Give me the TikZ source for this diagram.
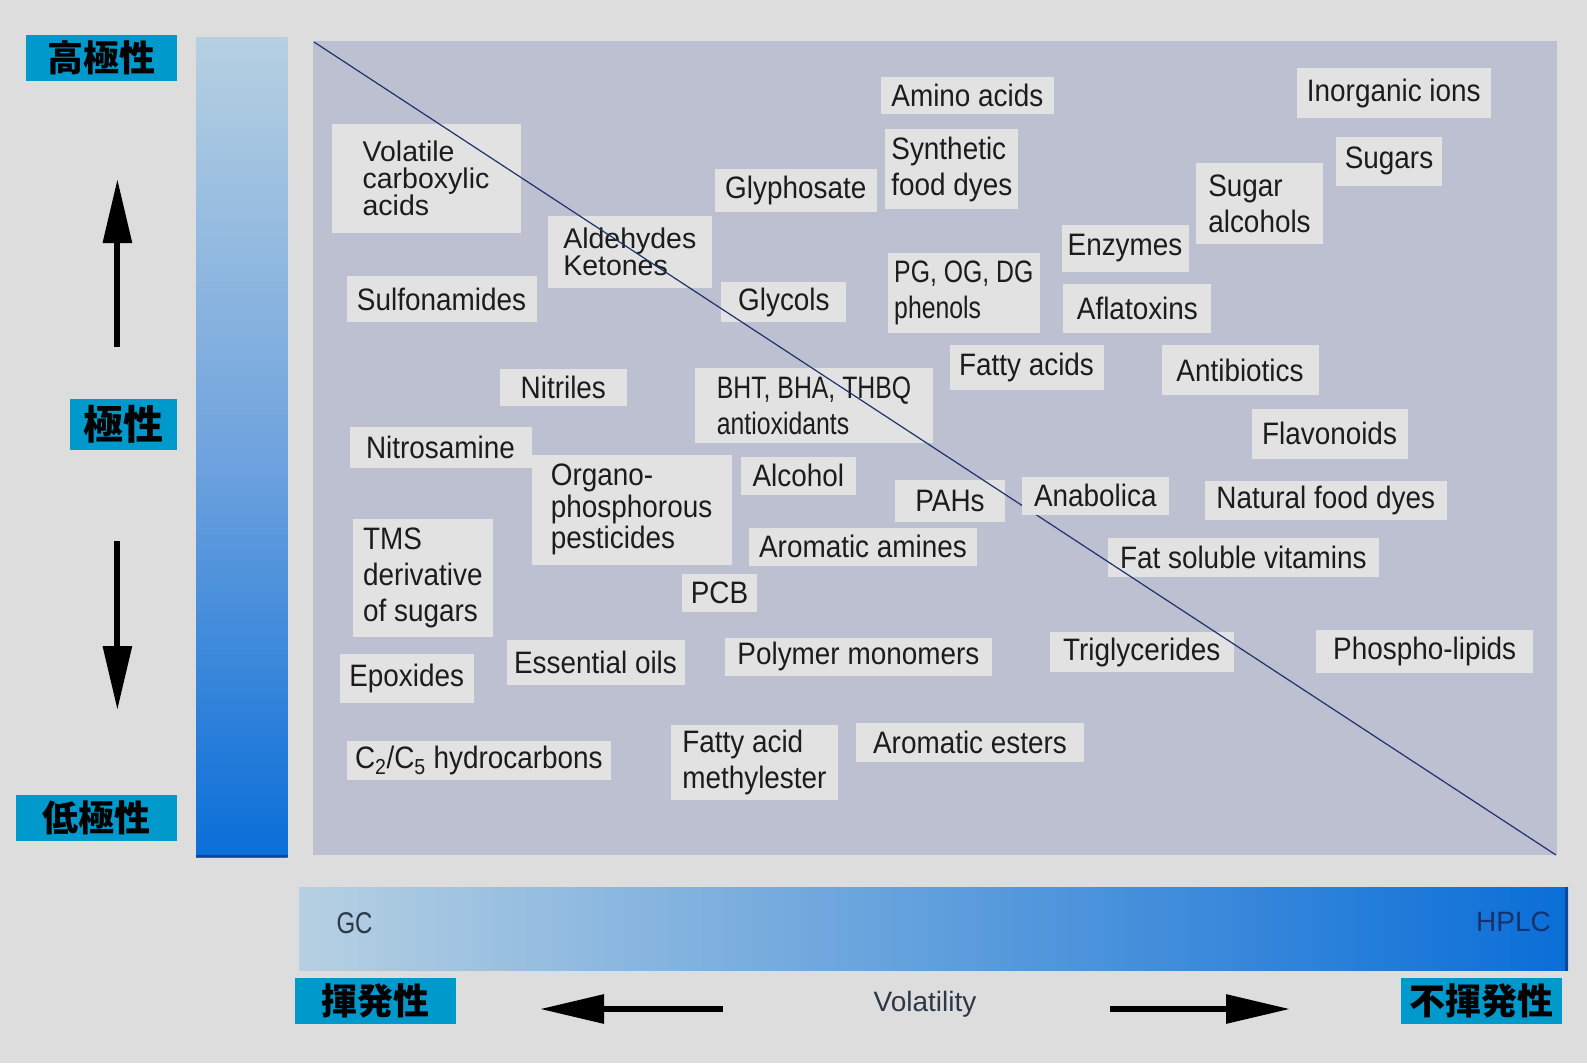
\documentclass[tikz,border=0pt]{standalone}
\usepackage{fontspec}
\setmainfont{Liberation Sans}
\newfontfamily\condf{Liberation Sans}[FakeStretch=0.9]
\newfontfamily\condg{Liberation Sans}[FakeStretch=0.8]
\newfontfamily\cjk{Noto Sans CJK JP}
\usetikzlibrary{arrows.meta}
\definecolor{bg}{RGB}{221,221,221}
\definecolor{panel}{RGB}{188,192,208}
\definecolor{boxc}{RGB}{226,226,226}
\definecolor{cyanlbl}{RGB}{0,153,204}
\definecolor{txt}{RGB}{28,28,28}
\definecolor{diag}{RGB}{30,50,110}
\definecolor{barlight}{RGB}{182,208,226}
\definecolor{barmid}{RGB}{112,164,222}
\definecolor{bardark}{RGB}{10,110,216}
\definecolor{edgec}{RGB}{12,70,150}
\definecolor{hplcc}{RGB}{22,50,110}
\definecolor{gcc}{RGB}{45,55,70}
\begin{document}
\begin{tikzpicture}[x=1pt,y=-1pt,
  lbl/.style={fill=boxc,text=txt,inner sep=0pt,align=left,font=\condf\fontsize{31}{36}\selectfont},
  tight/.style={font=\rmfamily\fontsize{28.5}{27}\selectfont},
  narrow/.style={font=\condg\fontsize{31}{36}\selectfont},
  sz/.style 2 args={minimum width=#1pt,minimum height=#2pt},
  jlbl/.style={fill=cyanlbl,text=black,inner sep=0pt,font=\cjk\bfseries\fontsize{36}{40}\selectfont},
  bigarrow/.style={line width=6pt,black,-{Triangle[length=64pt,width=28pt]}},
  plain/.style={inner sep=0pt,font=\fontsize{28}{32}\selectfont}
]
\useasboundingbox (0,0) rectangle (1587,1063);
\fill[bg] (0,0) rectangle (1587,1063);

% bars and panel
\shade[top color=barlight,bottom color=bardark,middle color=barmid] (196,37) rectangle (287.5,857);
\draw[edgec,line width=2pt] (196,856) -- (287.5,856);
\fill[panel] (312.5,41) rectangle (1557,855);
\shade[left color=barlight,right color=bardark] (299,887) rectangle (1568,970.5);
\draw[edgec,line width=3pt] (1566.5,887) -- (1566.5,970.5);

% bar texts
\node[plain,text=gcc,font=\fontsize{30}{32}\selectfont\addfontfeature{FakeStretch=0.8}] (gc) at (354.5,923) {GC};
\node[plain,text=hplcc] (hplc) at (1513.5,922) {HPLC};
\node[plain,text=gcc] (vol) at (925,1004) {Volatility};

% Japanese labels
\node[jlbl,sz={151}{46}] (hp) at (101.5,58) {高極性};
\node[jlbl,sz={107}{51},font=\cjk\bfseries\fontsize{40}{44}\selectfont] (pol) at (123.5,424.4) {極性};
\node[jlbl,sz={161}{46}] (lp) at (96.3,818) {低極性};
\node[jlbl,sz={161}{46}] (vl) at (375.5,1001) {揮発性};
\node[jlbl,sz={161}{46}] (nv) at (1481,1001) {不揮発性};

% arrows
\coordinate (upS) at (117.4,347);
\coordinate (upE) at (117.4,179);
\coordinate (dnS) at (117.4,541);
\coordinate (dnE) at (117.4,710);
\coordinate (ltS) at (723,1009);
\coordinate (ltE) at (540,1009);
\coordinate (rtS) at (1110,1009);
\coordinate (rtE) at (1290,1009);
\draw[bigarrow] (upS) -- (upE);
\draw[bigarrow] (dnS) -- (dnE);
\draw[bigarrow] (ltS) -- (ltE);
\draw[bigarrow] (rtS) -- (rtE);

% compound labels
\node[lbl,tight,sz={189}{109.5}] (vca) at (426,178.3) {Volatile\\carboxylic\\acids};
\node[lbl,sz={190}{46}] (sulf) at (441.5,299) {Sulfonamides};
\node[lbl,tight,sz={163.5}{71.5}] (ald) at (629.8,251.8) {Aldehydes\\Ketones};
\node[lbl,sz={162.5}{42.4}] (gly) at (795.8,190.4) {Glyphosate};
\node[lbl,sz={125}{40}] (glyc) at (783.9,302) {Glycols};
\node[lbl,sz={173}{36.7}] (amino) at (967.4,95.7) {Amino acids};
\node[lbl,sz={133}{80}] (sfd) at (951.9,169) {Synthetic\\food dyes};
\node[lbl,narrow,sz={152.5}{80}] (pg) at (963.8,293) {PG, OG, DG\\phenols};
\node[lbl,sz={127}{47}] (enz) at (1125,248.5) {Enzymes};
\node[lbl,sz={127}{81}] (sgal) at (1259.5,203.5) {Sugar\\alcohols};
\node[lbl,sz={194.5}{50}] (inorg) at (1393.8,93.4) {Inorganic ions};
\node[lbl,sz={106}{48.5}] (sug) at (1389,161.3) {Sugars};
\node[lbl,sz={148}{49}] (afla) at (1137.4,308.8) {Aflatoxins};
\node[lbl,sz={154}{45}] (fa) at (1026.5,367.5) {Fatty acids};
\node[lbl,sz={157}{50}] (anti) at (1240,370) {Antibiotics};
\node[lbl,sz={156}{50.5}] (flav) at (1329.5,433.8) {Flavonoids};
\node[lbl,sz={126.5}{37.5}] (nitr) at (563.3,387.3) {Nitriles};
\node[lbl,narrow,sz={238.5}{75}] (bht) at (814,405.8) {BHT, BHA, THBQ\\antioxidants};
\node[lbl,sz={182}{41}] (nitro) at (440.5,447) {Nitrosamine};
\node[lbl,sz={200}{109.5},font=\condf\fontsize{31}{31.5}\selectfont] (org) at (631.6,509.8) {Organo-\\phosphorous\\pesticides};
\node[lbl,sz={114.5}{38.5}] (alc) at (798.3,475.8) {Alcohol};
\node[lbl,sz={110}{42.5}] (pah) at (950,500.8) {PAHs};
\node[lbl,sz={228.6}{38.3}] (aram) at (863,546.8) {Aromatic amines};
\node[lbl,sz={140}{118}] (tms) at (422.9,578.1) {TMS\\derivative\\of sugars};
\node[lbl,sz={75.6}{38.3}] (pcb) at (719.5,593.2) {PCB};
\node[lbl,sz={178}{44.8}] (eo) at (595.5,662.6) {Essential oils};
\node[lbl,sz={266.8}{38.5}] (pm) at (858.4,656.8) {Polymer monomers};
\node[lbl,sz={134.3}{49.3}] (epo) at (406.7,678.7) {Epoxides};
\node[lbl,sz={264.5}{39.3}] (c2c5) at (478.8,760.4) {C\textsubscript{2}/C\textsubscript{5} hydrocarbons};
\node[lbl,sz={167.3}{75}] (fame) at (754.4,762.5) {Fatty acid\\methylester};
\node[lbl,sz={228}{38.3}] (arest) at (970,742.5) {Aromatic esters};
\node[lbl,sz={242.5}{38.6}] (nfd) at (1325.8,500.3) {Natural food dyes};
\node[lbl,sz={271.5}{39}] (fsv) at (1243.3,557.5) {Fat soluble vitamins};
\node[lbl,sz={183.8}{40.8}] (trig) at (1141.7,652) {Triglycerides};
\node[lbl,sz={217}{43.7}] (phos) at (1424.7,651.6) {Phospho-lipids};

% diagonal
\coordinate (dS) at (314,42);
\coordinate (dE) at (1556,855);
\draw[diag,line width=1.2pt] (dS) -- (dE);

\node[lbl,sz={146.5}{37.7}] (anab) at (1095.3,495.8) {Anabolica};
\end{tikzpicture}
\end{document}
